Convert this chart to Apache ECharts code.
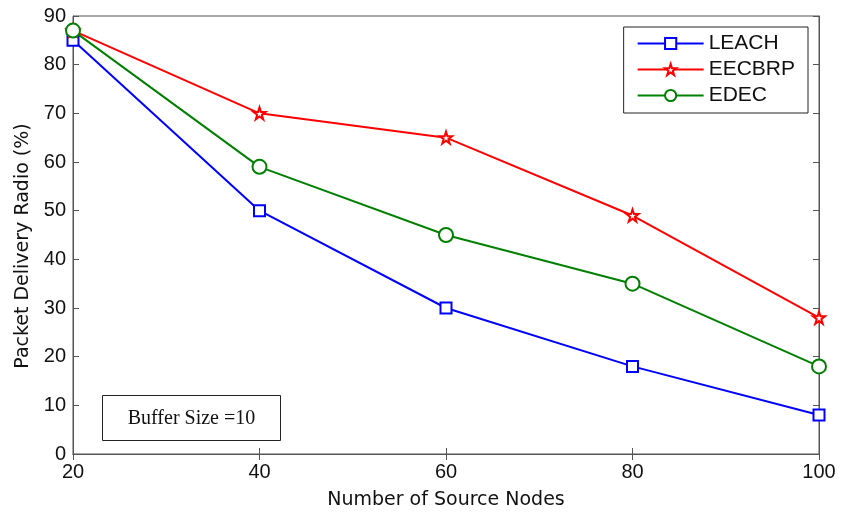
<!DOCTYPE html>
<html><head><meta charset="utf-8">
<script src="https://cdn.jsdelivr.net/npm/echarts@6/dist/echarts.min.js"></script>
<style>html,body{margin:0;padding:0;background:#fff}#c{width:841px;height:515px}</style>
</head><body><div id="c"></div>
<script>
var categories = [20, 40, 60, 80, 100];
var leach = [85, 50, 30, 18, 8];
var eecbrp = [87, 70, 65, 49, 28];
var edec = [87, 59, 45, 35, 18];
var xTicks = [20, 40, 60, 80, 100];

var starPath = 'path://M50,0 L61.8,35.1 L98.9,35.1 L69.1,56.9 L80.3,91.9 L50,70.1 L19.7,91.9 L30.9,56.9 L1.1,35.1 L38.2,35.1 Z';
var font = 'Liberation Sans, Arial, sans-serif';
var titleFont = 'DejaVu Sans, sans-serif';
var axisCol = '#555';

function pairs(arr){ return arr.map(function(v,i){ return [categories[i], v]; }); }

var chart = echarts.init(document.getElementById('c'));
chart.setOption({
  animation: false,
  grid: { left: 73, right: 22, top: 16, bottom: 59, show: true, borderColor: axisCol, borderWidth: 1 },
  legend: {
    right: 33, top: 27, orient: 'vertical', itemWidth: 66, itemHeight: 14, itemGap: 5,
    padding: [6, 13, 7, 13],
    borderColor: '#222', borderWidth: 1, backgroundColor: '#fff',
    textStyle: { fontFamily: font, fontSize: 21, color: '#111' },
    data: ['LEACH', 'EECBRP', 'EDEC']
  },
  xAxis: [{
    type: 'value', min: 20, max: 100, interval: 20,
    name: 'Number of Source Nodes', nameLocation: 'middle', nameGap: 37,
    nameTextStyle: { fontFamily: titleFont, fontSize: 19, color: '#111' },
    axisLine: { lineStyle: { color: axisCol } },
    axisTick: { inside: true, length: 6, lineStyle: { color: axisCol } },
    axisLabel: { fontFamily: font, fontSize: 20, color: '#111', margin: 8 },
    splitLine: { show: false }
  }, {
    type: 'value', min: 20, max: 100, interval: 20, position: 'top',
    axisLine: { lineStyle: { color: axisCol } },
    axisTick: { inside: true, length: 6, lineStyle: { color: axisCol } },
    axisLabel: { show: false }, splitLine: { show: false }
  }],
  yAxis: [{
    type: 'value', min: 0, max: 90, interval: 10,
    name: 'Packet Delivery Radio (%)', nameLocation: 'middle', nameGap: 39,
    nameTextStyle: { fontFamily: titleFont, fontSize: 19, color: '#111', padding: [0, 22, 0, 0] },
    axisLine: { show: true, lineStyle: { color: axisCol } },
    axisTick: { show: true, inside: true, length: 6, lineStyle: { color: axisCol } },
    axisLabel: { fontFamily: font, fontSize: 20, color: '#111', margin: 7 },
    splitLine: { show: false }
  }, {
    type: 'value', min: 0, max: 90, interval: 10, position: 'right',
    axisLine: { show: true, lineStyle: { color: axisCol } },
    axisTick: { show: true, inside: true, length: 6, lineStyle: { color: axisCol } },
    axisLabel: { show: false }, splitLine: { show: false }
  }],
  series: [
    { name: 'LEACH', type: 'line', data: pairs(leach), symbol: 'rect', symbolSize: 11,
      lineStyle: { color: '#0000ff', width: 2 }, itemStyle: { color: '#fff', borderColor: '#0000ff', borderWidth: 2 } },
    { name: 'EECBRP', type: 'line', data: pairs(eecbrp), symbol: starPath, symbolSize: 12,
      lineStyle: { color: '#ff0000', width: 2 }, itemStyle: { color: '#fff', borderColor: '#ff0000', borderWidth: 2 } },
    { name: 'EDEC', type: 'line', data: pairs(edec), symbol: 'emptyCircle', symbolSize: 14,
      lineStyle: { color: '#008000', width: 2 }, itemStyle: { color: '#008000', borderColor: '#008000', borderWidth: 2 } }
  ],
  graphic: [{
    type: 'group', left: 102, top: 395,
    children: [
      { type: 'rect', shape: { x: 0, y: 0, width: 178, height: 45 }, style: { fill: '#fff', stroke: '#222', lineWidth: 1 } },
      { type: 'text', style: { x: 89, y: 23, text: 'Buffer Size =10', textAlign: 'center', textVerticalAlign: 'middle',
        font: '20px "Liberation Serif", "Times New Roman", serif', fill: '#111' } }
    ]
  }]
});
</script></body></html>
